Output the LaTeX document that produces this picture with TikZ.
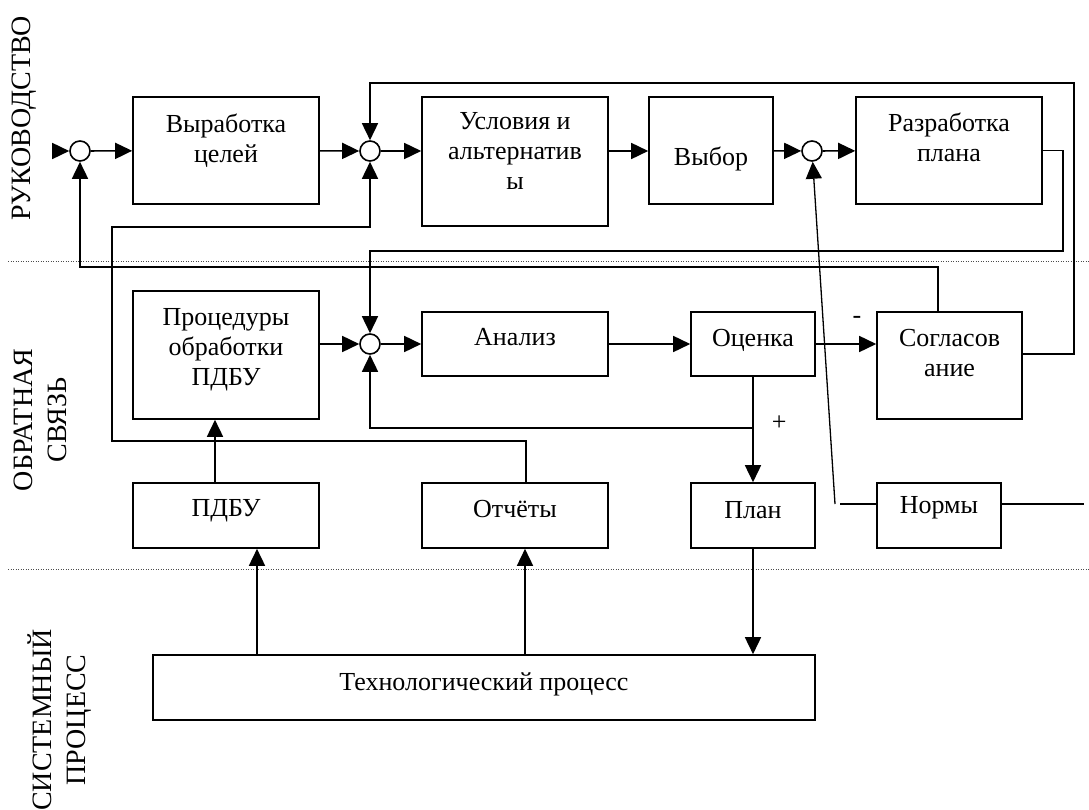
\documentclass[tikz,border=0pt]{standalone}
\usepackage{fontspec}
\setmainfont{Liberation Serif}
\usetikzlibrary{arrows.meta,positioning,calc}
\tikzstyle{block}=[draw,line width=1.6pt,inner sep=0pt]
\tikzstyle{sumnode}=[circle,draw,line width=1.6pt,minimum size=20pt,inner sep=0pt]
\tikzstyle{blocktext}=[align=center,inner sep=0pt,font=\fontsize{26}{30}\selectfont]
\tikzstyle{sidetext}=[rotate=90,align=center,inner sep=0pt,font=\fontsize{28}{34}\selectfont]
\tikzstyle{edge}=[draw,line width=1.6pt,-{Triangle[length=17pt,width=16pt]}]
\tikzstyle{wire}=[draw,line width=1.6pt]
\tikzstyle{divider}=[draw,black!70,line width=1pt,dash pattern=on 1pt off 1.5pt]

\begin{document}
\begin{tikzpicture}[x=1pt,y=-1pt]
\useasboundingbox (0,0) rectangle (1089,810);

% level separators
\draw[divider] (8,262) -- (1089,262);
\draw[divider] (8,569) -- (1089,569);

% level names
\node[sidetext] (lead) at (24,118) {РУКОВОДСТВО};
\node[sidetext] (fb) at (40,420) {ОБРАТНАЯ\\СВЯЗЬ};
\node[sidetext] (sys) at (60,720) {СИСТЕМНЫЙ\\ПРОЦЕСС};

% blocks
\foreach \pos/\w/\h/\name in {{(226,150.5)/186/107/goals}, {(515,161.5)/186/129/alt}, {(711,150.5)/124/107/choice},
    {(949,150.5)/186/107/plandev}, {(226,355)/186/128/proc}, {(515,344)/186/64/anal}, {(753,344)/124/64/eval},
    {(949.5,365.5)/145/107/agree}, {(226,515.5)/186/65/pdbu}, {(515,515.5)/186/65/rep}, {(753,515.5)/124/65/plan},
    {(939,515.5)/124/65/norms}, {(484,687.5)/662/65/tech}}
    \node[block, minimum width=\w, minimum height=\h] (\name) at \pos {};

% block texts
\foreach \name/\off/\txt in {goals/17pt/{Выработка\\целей}, alt/16pt/{Условия и\\альтернатив\\ы}, choice/50pt/{Выбор},
    plandev/16pt/{Разработка\\плана}, proc/18pt/{Процедуры\\обработки\\ПДБУ}, anal/17pt/{Анализ}, eval/18pt/{Оценка},
    agree/18pt/{Согласов\\ание}, pdbu/17pt/{ПДБУ}, rep/18pt/{Отчёты}, plan/19pt/{План}, norms/14pt/{Нормы},
    tech/18pt/{Технологический процесс}}
    \node[blocktext, below=\off of \name.north] {\txt};

% summing points
\foreach \pos/\name in {{(80,151)/s1}, {(370,151)/s2}, {(812,151)/s3}, {(370,344)/s4}}
    \node[sumnode] (\name) at \pos {};

% bends and free ends
\coordinate (in) at (52,151);
\coordinate (tr) at (1074,83);
\coordinate (r2) at (1063,251);
\coordinate (l2) at (112,227);
\coordinate (l3) at (112,441);
\coordinate (j1) at (753,428);
\coordinate (nl) at (835,504);
\coordinate (nr) at (1084,504);
\coordinate (a0) at (215,0);
\coordinate (a1) at (257,0);
\coordinate (a2) at (525,0);
\coordinate (a3) at (526,0);
\coordinate (a4) at (938,0);

% upper level
\draw[edge] (in) -- (s1);
\draw[edge] (s1) -- (goals);
\draw[edge] (goals) -- (s2);
\draw[edge] (s2) -- (s2 -| alt.west);
\draw[edge] (s2 -| alt.east) -- (s2 -| choice.west);
\draw[edge] (choice) -- (s3);
\draw[edge] (s3) -- (plandev);

% feedback level
\draw[edge] (proc.east |- s4) -- (s4);
\draw[edge] (s4) -- (anal);
\draw[edge] (anal) -- (eval);
\draw[edge] (eval) -- node[blocktext, pos=0.68, above=20pt] {-} (agree.west |- eval);
\draw[edge] (eval) -- node[blocktext, pos=0.44, right=18pt] {+} (plan);
\draw[edge] (j1) -| (s4);
\draw[edge] (pdbu.north -| a0) -- (proc.south -| a0);

% loops back to the top
\draw[edge] ([yshift=11.5pt]agree.east) -| (tr) -| (s2);
\draw[edge] (plandev.east) -| (r2) -| (s4);
\draw[edge] (agree.north -| a4) -- ++(0,-44) -| (s1);
\draw[edge] (rep.north -| a3) |- (l3) -- (l2) -| (s2);

% norms
\draw[wire] ([xshift=5pt]nl) -- (norms.west |- nl);
\draw[wire] (norms.east |- nr) -- (nr);
\draw[edge, line width=1.3pt] (nl) -- (s3);

% process level
\draw[edge] (plan) -- (tech.north -| plan);
\draw[edge] (tech.north -| a1) -- (pdbu.south -| a1);
\draw[edge] (tech.north -| a2) -- (rep.south -| a2);

\end{tikzpicture}
\end{document}
